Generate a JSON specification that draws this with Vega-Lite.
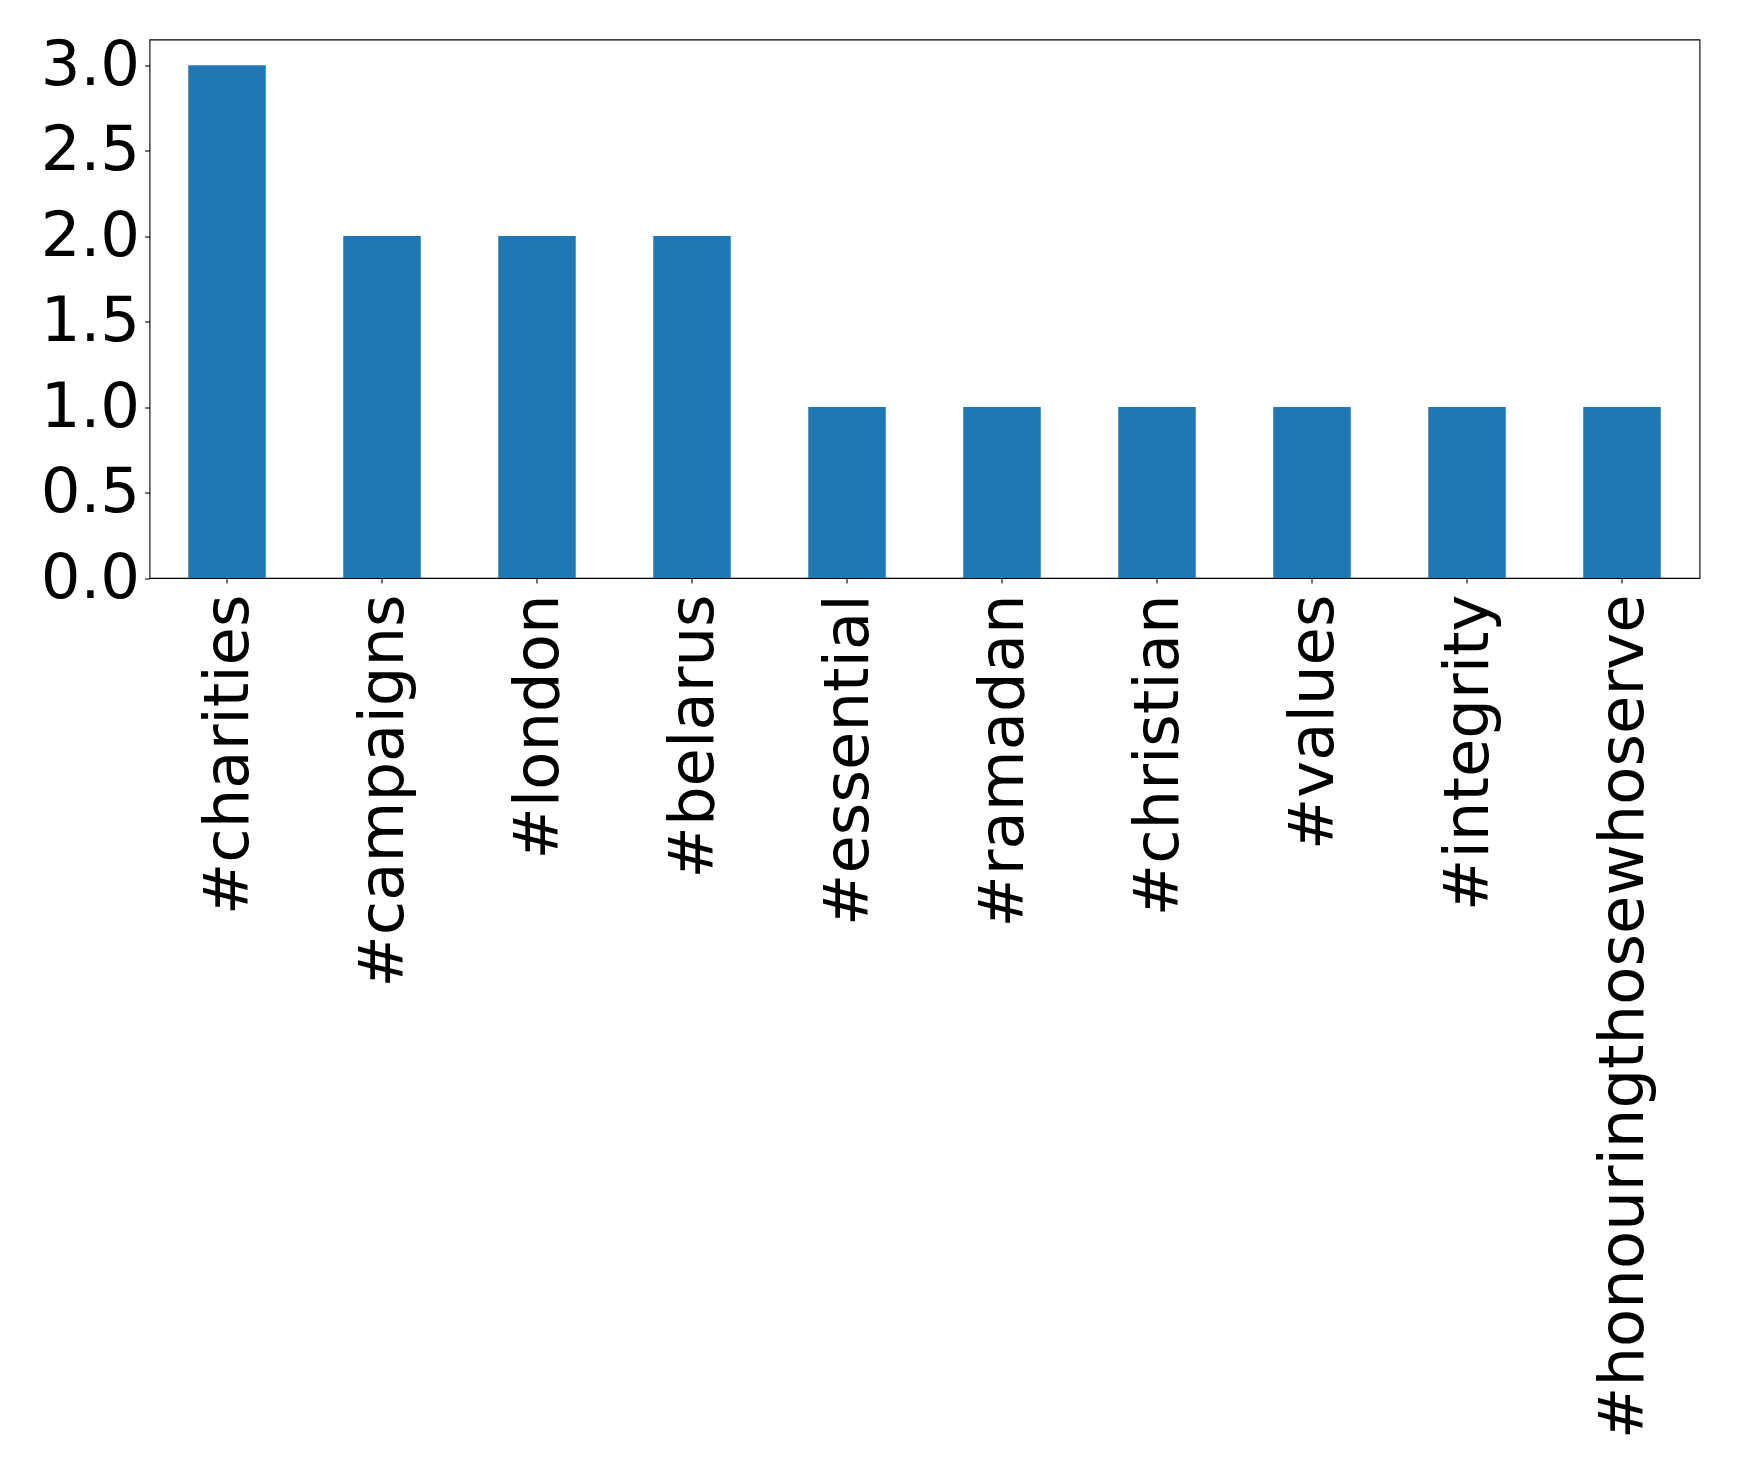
{
  "$schema": "https://vega.github.io/schema/vega-lite/v6.json",
  "autosize": "none",
  "width": 1550,
  "height": 538.5,
  "padding": {"left": 149.5, "top": 39.5, "right": 39.5, "bottom": 894},
  "background": "white",
  "config": {
    "view": {"stroke": "black", "strokeWidth": 1.1},
    "font": "DejaVu Sans",
    "axis": {
      "labelFont": "DejaVu Sans",
      "labelFontSize": 62.5,
      "labelColor": "black",
      "tickColor": "black",
      "tickSize": 4.9,
      "tickWidth": 1.1,
      "domain": false,
      "grid": false,
      "title": null
    }
  },
  "data": {
    "values": [
      {"tag": "#charities", "count": 3},
      {"tag": "#campaigns", "count": 2},
      {"tag": "#london", "count": 2},
      {"tag": "#belarus", "count": 2},
      {"tag": "#essential", "count": 1},
      {"tag": "#ramadan", "count": 1},
      {"tag": "#christian", "count": 1},
      {"tag": "#values", "count": 1},
      {"tag": "#integrity", "count": 1},
      {"tag": "#honouringthosewhoserve", "count": 1}
    ]
  },
  "mark": {"type": "bar", "color": "#1f77b4"},
  "encoding": {
    "x": {
      "field": "tag",
      "type": "nominal",
      "sort": null,
      "scale": {"paddingInner": 0.5, "paddingOuter": 0.25},
      "axis": {
        "labelAngle": 270,
        "labelAlign": "right",
        "labelBaseline": "middle",
        "labelPadding": 11,
        "labelOffset": 2,
        "labelLimit": 2000
      }
    },
    "y": {
      "field": "count",
      "type": "quantitative",
      "scale": {"domain": [0, 3.15], "nice": false},
      "axis": {
        "values": [0, 0.5, 1, 1.5, 2, 2.5, 3],
        "format": ".1f",
        "labelPadding": 5
      }
    }
  }
}
